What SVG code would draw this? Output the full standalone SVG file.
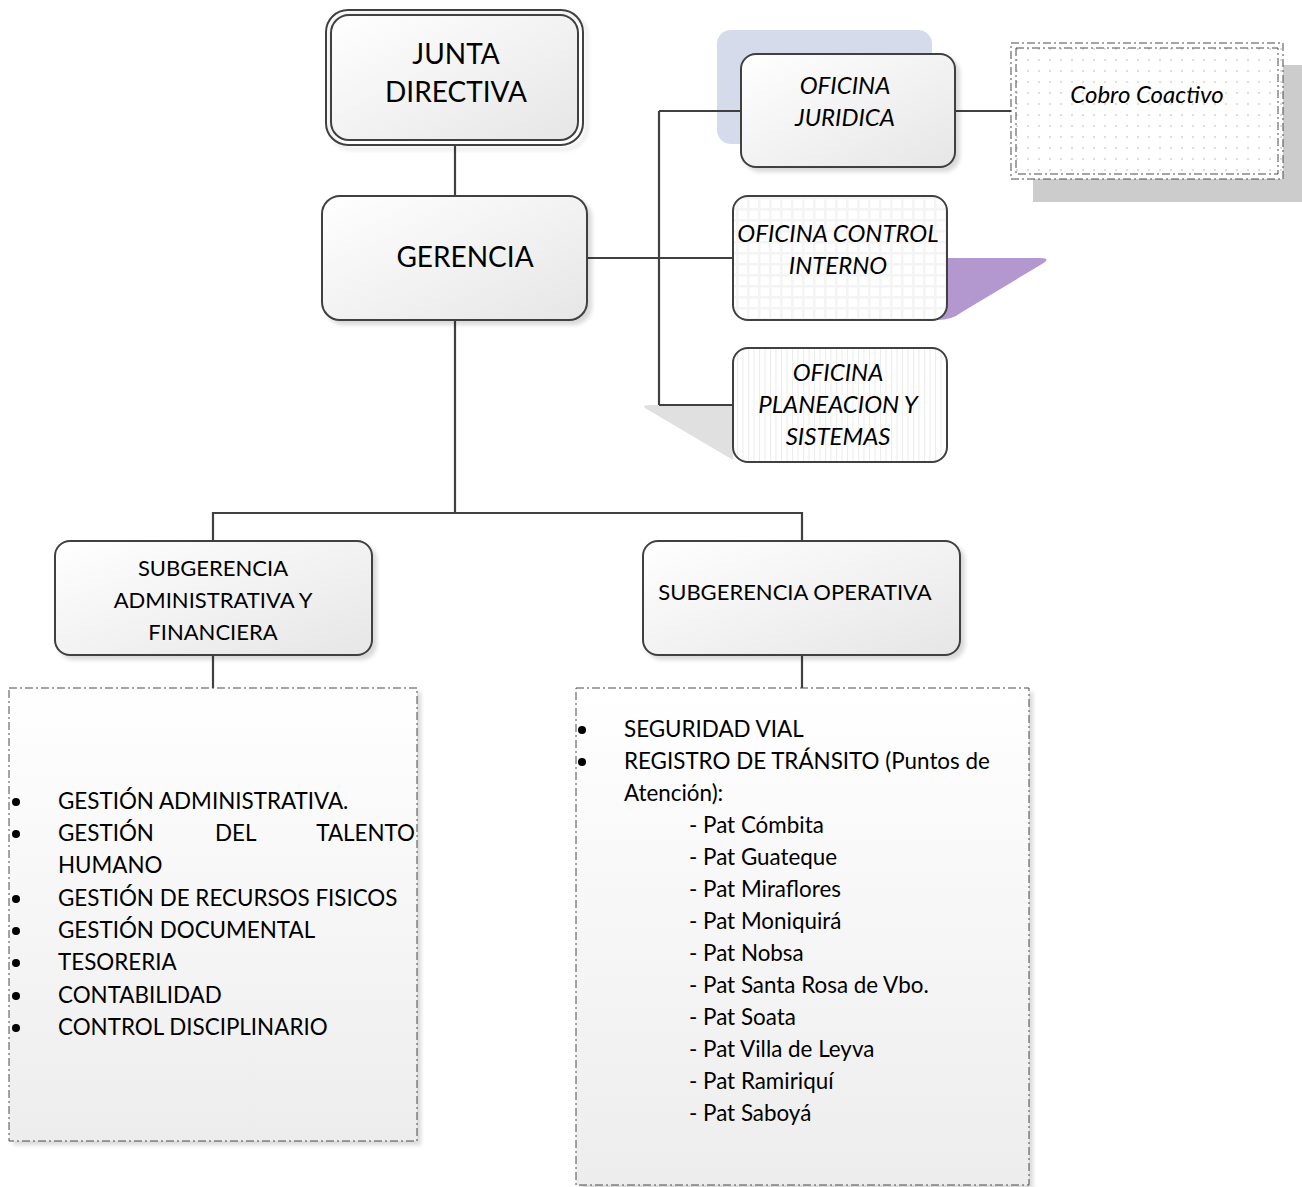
<svg xmlns="http://www.w3.org/2000/svg" width="1302" height="1187" viewBox="0 0 1302 1187">
<defs>
<linearGradient id="g" x1="0" y1="0" x2="1" y2="1">
<stop offset="0" stop-color="#ffffff"/><stop offset="1" stop-color="#e6e6e6"/>
</linearGradient>
<linearGradient id="gv" x1="0" y1="0" x2="0" y2="1">
<stop offset="0" stop-color="#ffffff"/><stop offset="1" stop-color="#ededed"/>
</linearGradient>
<pattern id="grid" width="11" height="11" patternUnits="userSpaceOnUse">
<rect width="11" height="11" fill="#f4f4f4"/><rect x="1.5" y="1.5" width="8.5" height="8.5" fill="#ffffff"/>
</pattern>
<pattern id="stripes" width="5.5" height="10" patternUnits="userSpaceOnUse">
<rect width="5.5" height="10" fill="#ffffff"/><rect x="0" width="1" height="10" fill="#ececec"/>
</pattern>
<pattern id="dots" width="11" height="11" patternUnits="userSpaceOnUse">
<rect width="11" height="11" fill="#ffffff"/><circle cx="5" cy="5" r="1" fill="#d4d4d4"/>
</pattern>
<filter id="sh" x="-10%" y="-10%" width="130%" height="130%">
<feGaussianBlur in="SourceAlpha" stdDeviation="2"/><feOffset dx="4" dy="4"/>
<feComponentTransfer><feFuncA type="linear" slope="0.15"/></feComponentTransfer>
<feMerge><feMergeNode/><feMergeNode in="SourceGraphic"/></feMerge>
</filter>
</defs>
<style>
.box{stroke:#404040;stroke-width:2;fill:url(#g)}
.ln{stroke:#404040;stroke-width:2.2;fill:none}
.t{font-family:Lato,"Liberation Sans",sans-serif;fill:#000;text-anchor:middle}
.big{font-size:28px}
.mid{font-size:24px;font-style:italic}
.sm{font-size:22px}
.lst{font-family:Lato,"Liberation Sans",sans-serif;font-size:22.4px;fill:#000}
.dash{fill:none;stroke:#4a4a4a;stroke-width:1;stroke-dasharray:8,3,2,3}
</style>

<g id="decor">
<rect x="717" y="30" width="215" height="114" rx="14" fill="#d6dbec"/>
<path d="M940 258 H1040 Q1052 258 1042 264 L962 312 Q952 320 937 320 Z" fill="#b397cf"/>
<path d="M733 405 H650 Q638 405 650 411 L733 460 Z" fill="#e0e0e0"/>
<rect x="1033" y="65" width="269" height="137" fill="#cccccc"/>
</g>

<g id="connectors">
<path class="ln" d="M455 145 V196"/>
<path class="ln" d="M587 258 H733"/>
<path class="ln" d="M659 111 V405"/>
<path class="ln" d="M659 111 H741"/>
<path class="ln" d="M659 405 H733"/>
<path class="ln" d="M955 111 H1012"/>
<path class="ln" d="M455 320 V513 M213 541 V513 H802 V541"/>
<path class="ln" d="M213 655 V688"/>
<path class="ln" d="M802 655 V688"/>
</g>

<g id="junta">
<rect x="326" y="10" width="257" height="135" rx="22" fill="none" stroke="#404040" stroke-width="2" filter="url(#sh)"/>
<rect x="331" y="15" width="247" height="125" rx="18" class="box"/>
<text class="t big" x="456" y="64">JUNTA</text>
<text class="t big" x="456" y="102">DIRECTIVA</text>
</g>

<g id="gerencia">
<rect x="322" y="196" width="265" height="124" rx="18" class="box" filter="url(#sh)"/>
<text class="t big" x="465" y="267">GERENCIA</text>
</g>

<g id="juridica">
<rect x="741" y="54" width="214" height="113" rx="15" class="box" filter="url(#sh)"/>
<text class="t mid" x="845" y="94">OFICINA</text>
<text class="t mid" x="845" y="126">JURIDICA</text>
</g>

<g id="cobro">
<rect x="1011" y="43" width="272" height="136" fill="url(#dots)"/>
<rect x="1011" y="43" width="272" height="136" class="dash"/>
<rect x="1016" y="48" width="262" height="126" class="dash"/>
<text class="t mid" x="1147" y="103">Cobro Coactivo</text>
</g>

<g id="control">
<rect x="733" y="196" width="214" height="124" rx="15" fill="url(#grid)" stroke="#404040" stroke-width="2"/>
<text class="t mid" x="838" y="242">OFICINA CONTROL</text>
<text class="t mid" x="838" y="274">INTERNO</text>
</g>

<g id="planeacion">
<rect x="733" y="348" width="214" height="114" rx="15" fill="url(#stripes)" stroke="#404040" stroke-width="2"/>
<text class="t mid" x="838" y="381">OFICINA</text>
<text class="t mid" x="838" y="413">PLANEACION Y</text>
<text class="t mid" x="838" y="445">SISTEMAS</text>
</g>

<g id="subadm">
<rect x="55" y="541" width="317" height="114" rx="15" class="box" filter="url(#sh)"/>
<text class="t sm" x="213" y="576">SUBGERENCIA</text>
<text class="t sm" x="213" y="608">ADMINISTRATIVA Y</text>
<text class="t sm" x="213" y="640">FINANCIERA</text>
</g>

<g id="subop">
<rect x="643" y="541" width="317" height="114" rx="15" class="box" filter="url(#sh)"/>
<text class="t sm" x="795" y="600">SUBGERENCIA OPERATIVA</text>
</g>

<g id="listadm">
<rect x="9" y="688" width="408" height="453" fill="url(#gv)" filter="url(#sh)"/>
<rect x="9" y="688" width="408" height="453" class="dash"/>
<g class="lst">
<circle cx="16" cy="802" r="4"/><text x="58" y="809">GESTIÓN ADMINISTRATIVA.</text>
<circle cx="16" cy="834" r="4"/><text x="58" y="841">GESTIÓN</text><text x="215" y="841">DEL</text><text x="415" y="841" text-anchor="end">TALENTO</text>
<text x="58" y="873">HUMANO</text>
<circle cx="16" cy="899" r="4"/><text x="58" y="906">GESTIÓN DE RECURSOS FISICOS</text>
<circle cx="16" cy="931" r="4"/><text x="58" y="938">GESTIÓN DOCUMENTAL</text>
<circle cx="16" cy="963" r="4"/><text x="58" y="970">TESORERIA</text>
<circle cx="16" cy="996" r="4"/><text x="58" y="1003">CONTABILIDAD</text>
<circle cx="16" cy="1028" r="4"/><text x="58" y="1035">CONTROL DISCIPLINARIO</text>
</g>
</g>

<g id="listop">
<rect x="576" y="688" width="453" height="497" fill="url(#gv)" filter="url(#sh)"/>
<rect x="576" y="688" width="453" height="497" class="dash"/>
<g class="lst">
<circle cx="582" cy="730" r="4"/><text x="624" y="737">SEGURIDAD VIAL</text>
<circle cx="582" cy="762" r="4"/><text x="624" y="769">REGISTRO DE TRÁNSITO (Puntos de</text>
<text x="624" y="801">Atención):</text>
<text x="689" y="833">- Pat Cómbita</text>
<text x="689" y="865">- Pat Guateque</text>
<text x="689" y="897">- Pat Miraflores</text>
<text x="689" y="929">- Pat Moniquirá</text>
<text x="689" y="961">- Pat Nobsa</text>
<text x="689" y="993">- Pat Santa Rosa de Vbo.</text>
<text x="689" y="1025">- Pat Soata</text>
<text x="689" y="1057">- Pat Villa de Leyva</text>
<text x="689" y="1089">- Pat Ramiriquí</text>
<text x="689" y="1121">- Pat Saboyá</text>
</g>
</g>
</svg>
